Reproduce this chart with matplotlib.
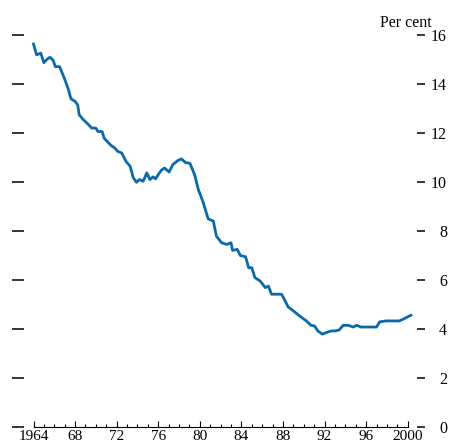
import numpy as np
import matplotlib.pyplot as plt
from matplotlib.ticker import MultipleLocator

# values
years = [1964.0, 1964.3, 1964.7, 1965.0, 1965.3, 1965.6, 1965.9, 1966.1, 1966.5, 1966.7,
         1967.0, 1967.35, 1967.6, 1968.0, 1968.25, 1968.4, 1968.8, 1969.3, 1969.6, 1970.0,
         1970.2, 1970.6, 1970.8, 1971.1, 1971.5, 1971.8, 1972.1, 1972.5, 1972.9, 1973.3,
         1973.6, 1973.9, 1974.2, 1974.55, 1974.9, 1975.2, 1975.5, 1975.75, 1976.0, 1976.3,
         1976.6, 1977.05, 1977.4, 1977.9, 1978.25, 1978.6, 1979.05, 1979.5, 1979.85, 1980.3,
         1980.8, 1981.3, 1981.6, 1982.1, 1982.6, 1983.0, 1983.15, 1983.6, 1983.9, 1984.4,
         1984.7, 1985.0, 1985.3, 1985.8, 1986.3, 1986.6, 1986.9, 1987.5, 1987.85, 1988.0,
         1988.5, 1989.0, 1989.6, 1990.25, 1990.7, 1991.05, 1991.35, 1991.8, 1992.2, 1992.65,
         1993.0, 1993.4, 1993.8, 1994.3, 1994.75, 1995.1, 1995.5, 1997.0, 1997.3, 1997.9,
         1999.2, 1999.7, 2000.3]
rate = [15.63, 15.19, 15.26, 14.87, 15.01, 15.09, 14.96, 14.71, 14.71, 14.51,
        14.20, 13.79, 13.40, 13.29, 13.15, 12.74, 12.54, 12.34, 12.20, 12.20,
        12.06, 12.06, 11.79, 11.65, 11.48, 11.39, 11.25, 11.18, 10.84, 10.64,
        10.17, 9.99, 10.10, 10.03, 10.37, 10.10, 10.21, 10.13, 10.30, 10.48,
        10.57, 10.41, 10.71, 10.88, 10.94, 10.80, 10.76, 10.30, 9.70, 9.20,
        8.50, 8.40, 7.79, 7.52, 7.45, 7.52, 7.21, 7.25, 7.00, 6.95,
        6.50, 6.50, 6.10, 5.96, 5.69, 5.75, 5.42, 5.42, 5.42, 5.32,
        4.90, 4.74, 4.53, 4.33, 4.15, 4.12, 3.92, 3.79, 3.86, 3.92,
        3.92, 3.96, 4.15, 4.15, 4.08, 4.15, 4.08, 4.08, 4.29, 4.33,
        4.33, 4.43, 4.56]
yticks = [0, 2, 4, 6, 8, 10, 12, 14, 16]
xticks = [1964, 1968, 1972, 1976, 1980, 1984, 1988, 1992, 1996, 2000]
xlabels = ['1964', '68', '72', '76', '80', '84', '88', '92', '96', '2000']

plt.rcParams['font.family'] = ['Liberation Serif', 'DejaVu Serif']

fig = plt.figure(figsize=(4.53, 4.46), dpi=100)
ax = fig.add_axes([33.5 / 453, 19 / 446, 374.2 / 453, 392 / 446])

ax.plot(years, rate, color='#0a69a8', lw=2.0, clip_on=False, solid_joinstyle='round')

ax.set_xlim(1964, 2000)
ax.set_ylim(0, 16)

ax.spines['top'].set_visible(False)
ax.spines['left'].set_visible(False)
ax.spines['right'].set_visible(False)
ax.spines['left'].set_position(('outward', 6.8))
ax.spines['right'].set_position(('outward', 6.8))
ax.spines['bottom'].set_linewidth(0.8)

ax.set_xticks(xticks)
ax.set_xticklabels(xlabels)
ax.xaxis.set_minor_locator(MultipleLocator(1))
ax.tick_params(axis='x', which='major', direction='in', length=4.5, width=0.8,
               labelsize=11, pad=2)
ax.tick_params(axis='x', which='minor', direction='in', length=2.4, width=0.8)

ax.set_yticks(yticks)
ax.yaxis.set_ticks_position('both')
ax.tick_params(axis='y', which='major', direction='out', left=True, right=True,
               labelleft=False, labelright=True, width=1.1, labelsize=11.5, pad=18)
for t in ax.yaxis.get_major_ticks():
    t.tick1line.set_markersize(8.6)
    t.tick2line.set_markersize(5.8)
for lab in ax.get_yticklabels():
    lab.set_horizontalalignment('right')

fig.text(432 / 453, 1 - 27 / 446, 'Per cent', ha='right', va='baseline', fontsize=11.5)

fig.savefig('out.png', dpi=100)
